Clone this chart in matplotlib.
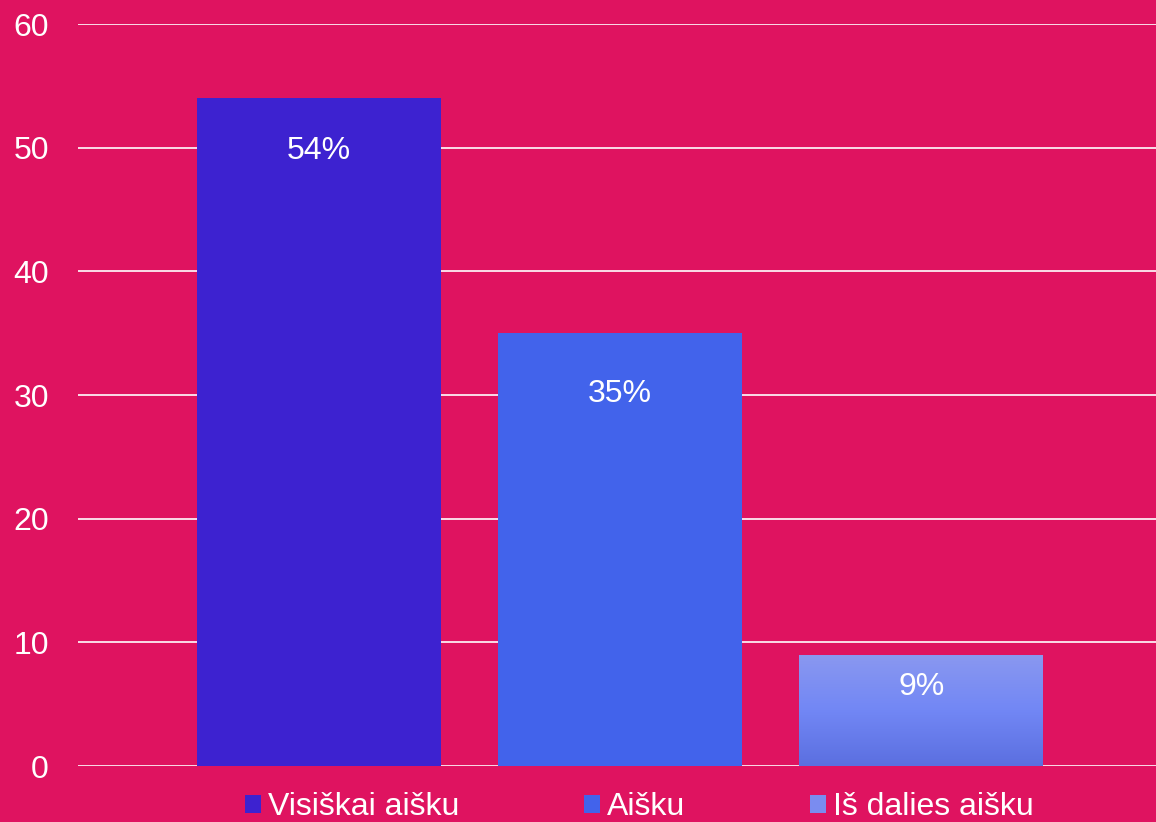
import matplotlib.pyplot as plt
import numpy as np
from matplotlib.patches import Patch
from matplotlib.colors import LinearSegmentedColormap

plt.rcParams['font.family'] = ['Liberation Sans', 'DejaVu Sans']

categories = ['Visiškai aišku', 'Aišku', 'Iš dalies aišku']
values = [54, 35, 9]
labels = ['54%', '35%', '9%']
colors = ['#3D22D0', '#4263EB', '#7A8CF0']

bg = '#DF1360'
label_drop = [38, 44, 23]  # points below bar top

fig = plt.figure(figsize=(11.56, 8.22), dpi=100, facecolor=bg)
ax = fig.add_axes([0.0675, 0.0681, 0.9325, 0.9027], facecolor=bg)

x = np.arange(len(values))
bars = ax.bar(x, values, width=0.81, color=colors, zorder=3)

# gradient on the last bar
last = bars[2]
grad = np.linspace(0, 1, 256).reshape(-1, 1)
cmap = LinearSegmentedColormap.from_list('g', ['#5B6FE0', '#7287F5', '#8A98F0'])
im = ax.imshow(grad, cmap=cmap, origin='lower', aspect='auto', zorder=4,
               extent=[last.get_x(), last.get_x() + last.get_width(), 0, last.get_height()])
im.set_clip_path(last)

for xi, v, lab, d in zip(x, values, labels, label_drop):
    ax.annotate(lab, (xi, v), xytext=(0, -d), textcoords='offset points',
                ha='center', va='center', color='white', fontsize=23, zorder=5)

ax.set_ylim(0, 60)
ax.set_xlim(-0.8, 2.78)
ax.set_yticks(range(0, 61, 10))
ax.set_xticks([])
ax.grid(axis='y', color='white', linewidth=1.2, zorder=1)
ax.tick_params(axis='y', length=0, pad=21, labelsize=23, labelcolor='white')
for s in ax.spines.values():
    s.set_visible(False)

handles = [Patch(facecolor=c) for c in colors]
fig.legend(handles, categories, loc='center', bbox_to_anchor=(0.553, 0.018), ncol=3,
           frameon=False, fontsize=23, labelcolor='white', handlelength=0.5,
           handleheight=0.5, handletextpad=0.22, columnspacing=3.9, borderpad=0)

fig.savefig('out.png', dpi=100, facecolor=bg)
